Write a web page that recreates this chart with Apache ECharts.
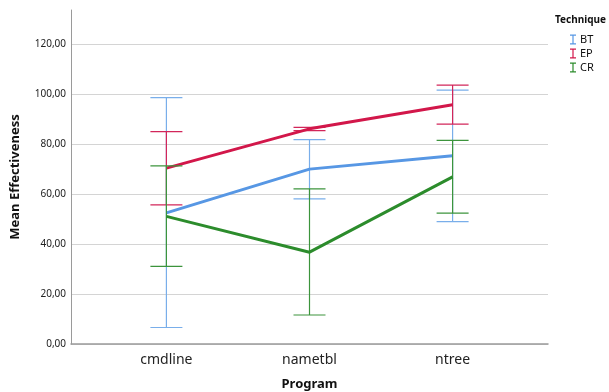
<!DOCTYPE html>
<html>
<head>
<meta charset="utf-8">
<script src="https://cdn.jsdelivr.net/npm/echarts@6/dist/echarts.min.js"></script>
<style>html,body{margin:0;padding:0;background:#fff}#c{width:609px;height:392px}</style>
</head>
<body>
<div id="c"></div>
<script>
var categories = ['cmdline', 'nametbl', 'ntree'];
var techniques = ['BT', 'EP', 'CR'];
var btMean = [52.4, 69.9, 75.2];
var btLow = [6.6, 58.0, 48.9];
var btHigh = [98.5, 81.7, 101.5];
var epMean = [70.3, 86.0, 95.6];
var epLow = [55.6, 85.3, 87.9];
var epHigh = [84.9, 86.6, 103.5];
var crMean = [51.0, 36.7, 66.8];
var crLow = [31.0, 11.6, 52.3];
var crHigh = [71.2, 62.0, 81.4];
var yTicks = [0, 20, 40, 60, 80, 100, 120];

var lineColors = ['#5797e4', '#d2174a', '#2c8c2c'];
var barColors = ['#79aeea', '#d2265a', '#3c943c'];
var FONT = 'Noto Sans';

var means = [btMean, epMean, crMean];
var lows = [btLow, epLow, crLow];
var highs = [btHigh, epHigh, crHigh];

function errRender(color) {
  return function (params, api) {
    var x = api.value(0);
    var lo = api.coord([x, api.value(1)]);
    var hi = api.coord([x, api.value(2)]);
    var hw = 16;
    var st = { stroke: color, lineWidth: 1.2 };
    return {
      type: 'group',
      children: [
        { type: 'line', shape: { x1: lo[0], y1: lo[1], x2: hi[0], y2: hi[1] }, style: st },
        { type: 'line', shape: { x1: lo[0] - hw, y1: lo[1], x2: lo[0] + hw, y2: lo[1] }, style: st },
        { type: 'line', shape: { x1: hi[0] - hw, y1: hi[1], x2: hi[0] + hw, y2: hi[1] }, style: st }
      ]
    };
  };
}

var series = [];
techniques.forEach(function (t, i) {
  series.push({
    name: t,
    type: 'custom',
    renderItem: errRender(barColors[i]),
    data: categories.map(function (c, j) { return [j, lows[i][j], highs[i][j]]; }),
    encode: { x: 0, y: [1, 2] },
    itemStyle: { color: barColors[i] },
    z: 2 + i * 2,
    silent: true
  });
  series.push({
    name: t + '_line',
    type: 'line',
    data: categories.map(function (c, j) { return [j, means[i][j]]; }),
    symbol: 'none',
    lineStyle: { color: lineColors[i], width: 3 },
    z: 3 + i * 2,
    silent: true
  });
});

var yMax = 133.5;
var splitColors = yTicks.map(function () { return '#d4d4d4'; });
splitColors.push('rgba(0,0,0,0)');

var chart = echarts.init(document.getElementById('c'));
chart.setOption({
  animation: false,
  backgroundColor: '#fff',
  grid: { left: 71, right: 61, top: 10, bottom: 48, containLabel: false, outerBoundsMode: 'none' },
  xAxis: {
    type: 'value',
    min: -2 / 3,
    max: 8 / 3,
    interval: 1 / 3,
    axisLine: { onZero: false, lineStyle: { color: '#9a9a9a', width: 1.5 } },
    axisTick: { show: false },
    splitLine: { show: false },
    axisLabel: {
      fontFamily: FONT, fontSize: 14, color: '#222', margin: 9,
      showMinLabel: false, showMaxLabel: false,
      formatter: function (v) {
        var r = Math.round(v);
        return Math.abs(v - r) < 1e-6 && r >= 0 && r < categories.length ? categories[r] : '';
      }
    },
    name: 'Program',
    nameLocation: 'middle',
    nameGap: 34,
    nameTextStyle: { fontFamily: FONT, fontSize: 13, fontWeight: 'bold', color: '#111' }
  },
  yAxis: {
    type: 'value',
    min: 0,
    max: yMax,
    interval: 20,
    axisLine: { show: true, onZero: false, lineStyle: { color: '#9a9a9a', width: 1 } },
    axisTick: { show: false },
    splitLine: { show: true, lineStyle: { color: splitColors, width: 1 } },
    axisLabel: {
      fontFamily: FONT, fontSize: 10, color: '#222', margin: 5,
      showMaxLabel: false,
      formatter: function (v) { return v.toFixed(2).replace('.', ','); }
    },
    name: 'Mean Effectiveness',
    nameLocation: 'middle',
    nameGap: 49,
    nameRotate: 90,
    nameTextStyle: { fontFamily: FONT, fontSize: 13, fontWeight: 'bold', color: '#111' }
  },
  legend: {
    data: techniques.map(function (t, i) { return { name: t, itemStyle: { color: lineColors[i] } }; }),
    orient: 'vertical',
    left: 565,
    top: 29,
    itemWidth: 6,
    itemHeight: 10,
    itemGap: 3,
    icon: 'path://M0,0H6V1.2H3.6V8.8H6V10H0V8.8H2.4V1.2H0Z',
    textStyle: { fontFamily: FONT, fontSize: 11, color: '#111', padding: [0, 0, 0, -1] },
    selectedMode: false
  },
  graphic: [{
    type: 'text', left: 555, top: 15,
    style: { text: 'Technique', fontFamily: FONT, fontSize: 10, fontWeight: 'bold', fill: '#111' }
  }],
  series: series
});
</script>
</body>
</html>
